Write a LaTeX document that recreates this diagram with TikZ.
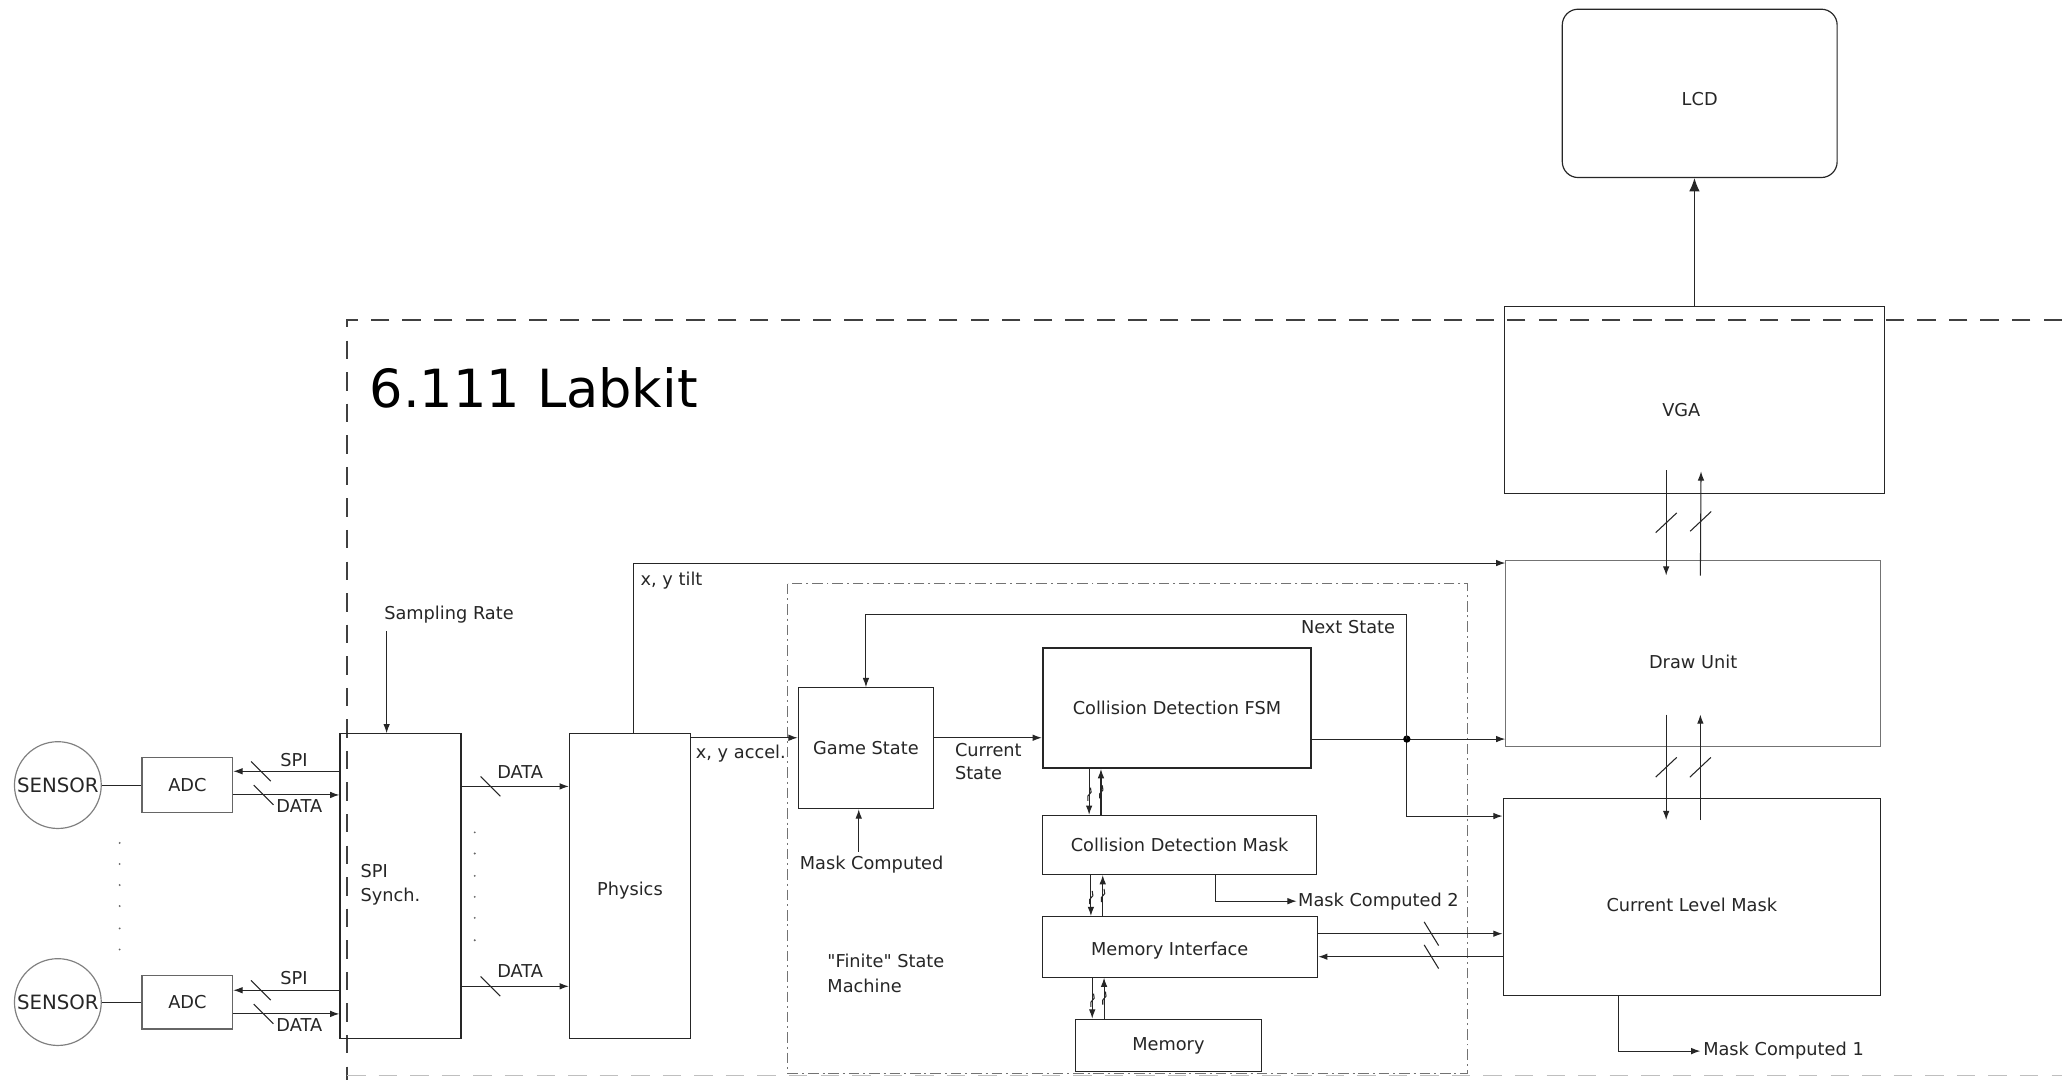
\documentclass[tikz,border=0pt]{standalone}
\usepackage{fontspec}
\setmainfont{DejaVu Sans}[Ligatures=TeXOff]
\usetikzlibrary{arrows.meta,calc}
\begin{document}
\begin{tikzpicture}[x=1pt,y=-1pt,
  every node/.style={font=\fontsize{13.5}{18}\selectfont, text=black!85},
  box/.style={draw=black!85, line width=0.9pt, rectangle, inner sep=0pt},
  lbl/.style={inner sep=0pt},
  wire/.style={draw=black!85, line width=0.8pt},
  arr/.style={wire, -{Latex[length=7pt,width=5pt]}},
  tick/.style={draw=black!85, line width=0.8pt},
  bslash/.pic={\draw[tick] (-7.5,-7.5) -- (7.5,7.5);},
  steepslash/.pic={\draw[tick] (-5.5,-9) -- (5.5,9);},
  fslash/.pic={\draw[tick] (-8,7.5) -- (8,-7.5);},
  zig/.pic={\draw[tick] (-1,5) -- (-1,1.5) -- (1.5,-1.5) -- (1,-5);},
  labkit/.style={draw=black!75, line width=1.5pt, dash pattern=on 14pt off 10pt},
  fsmframe/.style={draw=black!55, line width=0.8pt, dash pattern=on 8pt off 3pt on 1.5pt off 3pt}
]
\useasboundingbox (0,0) rectangle (1568,821);
\fill[white] (0,0) rectangle (1568,821);

% ---------- frames ----------
\draw[labkit] (1568,243) -- (264,243) -- (264,821);
\draw[draw=black!25, line width=1pt, dash pattern=on 14pt off 10pt] (264,818) -- (1568,818);
\node[lbl, anchor=base west, font=\fontsize{40}{48}\selectfont, text=black] (title) at (281,310) {6.111 Labkit};
\draw[fsmframe] (599,444) rectangle (1116,816);

% ---------- nodes ----------
\node[box, circle, draw=black!50, minimum size=66pt, font=\fontsize{15}{18}\selectfont] (sen1) at (44,597) {SENSOR};
\node[box, circle, draw=black!50, minimum size=66pt, font=\fontsize{15}{18}\selectfont] (sen2) at (44,762) {SENSOR};
\node[box, draw=black!60, minimum width=69pt, minimum height=42pt] (adc1) at (142.5,597) {ADC};
\node[box, draw=black!60, minimum width=69pt, minimum height=41pt] (adc2) at (142.5,762) {ADC};
\node[box, minimum width=92pt, minimum height=232pt] (spi) at (304.5,674) {};
\node[lbl, anchor=west, align=left] (spitxt) at (274,673) {SPI\\Synch.};
\node[box, minimum width=92pt, minimum height=232pt, label={[lbl,yshift=-3pt]center:Physics}] (phys) at (479,674) {};
\node[box, minimum width=103pt, minimum height=92pt] (gs) at (658.5,569) {Game State};
\node[box, line width=1.6pt, minimum width=204pt, minimum height=91pt] (fsm) at (895,538.5) {Collision Detection FSM};
\node[box, minimum width=208pt, minimum height=45pt] (cdm) at (897,642.5) {Collision Detection Mask};
\node[box, minimum width=209pt, minimum height=46pt, label={[lbl,xshift=-8pt,yshift=-3pt]center:Memory Interface}] (mi) at (897.5,720) {};
\node[box, minimum width=141pt, minimum height=40pt] (mem) at (888.5,795) {Memory};
\node[box, minimum width=209pt, minimum height=128pt, rounded corners=12pt, label={[lbl,yshift=-4pt]center:LCD}] (lcd) at (1292.5,71) {};
\node[box, minimum width=289pt, minimum height=142pt, label={[lbl,xshift=-10pt,yshift=-8pt]center:VGA}] (vga) at (1288.5,304) {};
\node[box, draw=black!55, line width=0.7pt, minimum width=285pt, minimum height=142pt, label={[lbl,yshift=-6pt]center:Draw Unit}] (draw) at (1287.5,497) {};
\node[box, minimum width=287pt, minimum height=150pt, label={[lbl,yshift=-6pt]center:Current Level Mask}] (clm) at (1286.5,682) {};

% ---------- labels ----------
\node[lbl, anchor=base west] (spil1) at (213,583) {SPI};
\node[lbl, anchor=base west] (datl1) at (210,618) {DATA};
\node[lbl, anchor=base west] (spil2) at (213,749) {SPI};
\node[lbl, anchor=base west] (datl2) at (210,784) {DATA};
\node[lbl, anchor=base west] (pdl1) at (378,592) {DATA};
\node[lbl, anchor=base west] (pdl2) at (378,743) {DATA};
\node[lbl, anchor=base west] (sr) at (292,471) {Sampling Rate};
\node[lbl, anchor=base west] (tilt) at (487,445) {x, y tilt};
\node[lbl, anchor=base west] (accl) at (529,577) {x, y accel.};
\node[lbl, anchor=west, align=left] (curst) at (726,579) {Current\\State};
\node[lbl, anchor=base east] (nxst) at (1061,482) {Next State};
\node[lbl, anchor=base west] (mc) at (608,661) {Mask Computed};
\node[lbl, anchor=base west] (mc2) at (987,689) {Mask Computed 2};
\node[lbl, anchor=base west] (mc1) at (1295,803) {Mask Computed 1};
\node[lbl, anchor=west, align=left, font=\fontsize{13.5}{19}\selectfont] (fsmlbl) at (629,740) {"Finite" State\\Machine};

% ---------- sensors / ADC ----------
\draw[wire] (sen1.east) -- (adc1.west);
\draw[wire] (sen2.east) -- (adc2.west);
\coordinate (a1s) at ([yshift=10.5pt]adc1.east);
\coordinate (a1d) at ([yshift=-7.5pt]adc1.east);
\coordinate (a2s) at ([yshift=9pt]adc2.east);
\coordinate (a2d) at ([yshift=-9pt]adc2.east);
\draw[arr] (spi.west |- a1s) -- (a1s);
\draw[arr] (a1d) -- (spi.west |- a1d);
\draw[arr] (spi.west |- a2s) -- (a2s);
\draw[arr] (a2d) -- (spi.west |- a2d);
\pic at ([xshift=21pt]a1s) {bslash};
\pic at ([xshift=23pt]a1d) {bslash};
\pic at ([xshift=21pt]a2s) {bslash};
\pic at ([xshift=23pt]a2d) {bslash};

% dotted columns
\foreach \yy in {641,657,673,689,706,722} \fill[black!60] (91,\yy) circle (0.8pt);
\foreach \yy in {633,649,666,682,698,715} \fill[black!60] (361,\yy) circle (0.8pt);

% ---------- SPI -> Physics ----------
\coordinate (pd1) at ([yshift=76pt]spi.east);
\coordinate (pd2) at ([yshift=-76pt]spi.east);
\draw[arr] (pd1) -- (phys.west |- pd1);
\draw[arr] (pd2) -- (phys.west |- pd2);
\pic at ([xshift=22pt]pd1) {bslash};
\pic at ([xshift=22pt]pd2) {bslash};

% sampling rate
\draw[arr] ([xshift=2pt,yshift=-6pt]sr.south west) -- ([xshift=2pt]sr.south west |- spi.north);

% ---------- Physics outputs ----------
\coordinate (tiltend) at ([yshift=-2.5pt]draw.north west);
\draw[arr] ([xshift=2.5pt]phys.north) |- (tiltend);
\coordinate (acc) at ([yshift=8pt]gs.west);
\draw[arr] (phys.east |- acc) -- (acc);

% ---------- FSM area ----------
\coordinate (cs) at ([yshift=8pt]gs.east);
\draw[arr] (cs) -- (fsm.west |- cs);
\coordinate (fo) at ([yshift=-23.5pt]fsm.east);
\coordinate (jn) at ([xshift=72pt]fo);
\draw[wire] (fo) -- (jn);
\draw[arr] (jn) -- (draw.west |- jn);
\coordinate (clmin) at ([yshift=-14pt]clm.north west);
\draw[arr] (jn) |- (clmin);
\fill[black] (jn) circle (2.8pt);
\draw[arr] (jn) -- ++(0,-95) -| (gs.north);
\draw[arr] ([xshift=-5.5pt,yshift=3pt]gs.south |- mc.north) -- ([xshift=-5.5pt]gs.south);

% FSM <-> CDM
\coordinate (f1) at ([xshift=36pt]fsm.south west);
\coordinate (f2) at ([xshift=45pt]fsm.south west);
\draw[arr] (f1) -- (f1 |- cdm.north);
\draw[arr] (f2 |- cdm.north) -- (f2);
\pic at ($(f1)!0.55!(f1 |- cdm.north)$) {zig};
\pic at ($(f2)!0.5!(f2 |- cdm.north)$) {zig};
% CDM <-> MI
\coordinate (c1) at ([xshift=37pt]cdm.south west);
\coordinate (c2) at ([xshift=46pt]cdm.south west);
\draw[arr] (c1) -- (c1 |- mi.north);
\draw[arr] (c2 |- mi.north) -- (c2);
\pic at ($(c1)!0.55!(c1 |- mi.north)$) {zig};
\pic at ($(c2)!0.5!(c2 |- mi.north)$) {zig};
% MI <-> Memory
\coordinate (m1) at ([xshift=38pt]mi.south west);
\coordinate (m2) at ([xshift=47pt]mi.south west);
\draw[arr] (m1) -- (m1 |- mem.north);
\draw[arr] (m2 |- mem.north) -- (m2);
\pic at ($(m1)!0.55!(m1 |- mem.north)$) {zig};
\pic at ($(m2)!0.5!(m2 |- mem.north)$) {zig};

% Mask computed 2
\draw[arr] ([xshift=132pt]cdm.south west) |- ([xshift=-1pt]mc2.west);

% MI <-> CLM
\coordinate (mo) at ([yshift=10pt]mi.east);
\coordinate (mb) at ([yshift=-7.5pt]mi.east);
\draw[arr] (mo) -- (clm.west |- mo);
\draw[arr] (clm.west |- mb) -- (mb);
\pic at ([xshift=86pt]mo) {steepslash};
\pic at ([xshift=86pt]mb) {steepslash};

% ---------- right column ----------
\draw[wire, -{Latex[length=10pt,width=8pt]}] (vga.north) -- (vga.north |- lcd.south);

\coordinate (vd1) at ([xshift=-21.5pt,yshift=18pt]vga.south);
\coordinate (dd1) at ([xshift=-20.5pt,yshift=-12pt]draw.north);
\coordinate (du1) at ([xshift=5.5pt,yshift=-12pt]draw.north);
\coordinate (vu1) at ([xshift=5pt,yshift=17pt]vga.south);
\draw[arr] (vd1) -- (dd1);
\draw[arr] (du1) -- (vu1);
\pic at ($(vd1)!0.5!(dd1)$) {fslash};
\pic at ($(vu1)!0.48!(du1)$) {fslash};

\coordinate (dd2) at ([xshift=-20.5pt,yshift=25pt]draw.south);
\coordinate (cd2) at ([xshift=-19.5pt,yshift=-17pt]clm.north);
\coordinate (cu2) at ([xshift=6.5pt,yshift=-17pt]clm.north);
\coordinate (du2) at ([xshift=5.5pt,yshift=25pt]draw.south);
\draw[arr] (dd2) -- (cd2);
\draw[arr] (cu2) -- (du2);
\pic at ($(dd2)!0.5!(cd2)$) {fslash};
\pic at ($(du2)!0.5!(cu2)$) {fslash};

% Mask computed 1
\draw[arr] ([xshift=88pt]clm.south west) |- ([xshift=-2pt]mc1.west);
\end{tikzpicture}
\end{document}
